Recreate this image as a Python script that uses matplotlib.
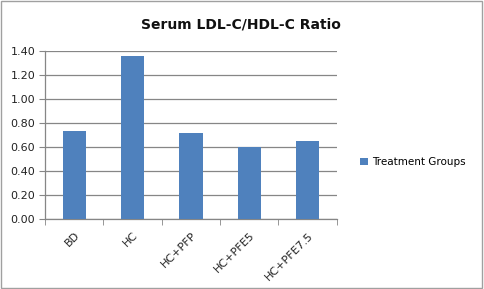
import matplotlib
matplotlib.use("Agg")
import matplotlib.pyplot as plt
from matplotlib.patches import Rectangle

# Data
groups = ["BD", "HC", "HC+PFP", "HC+PFE5", "HC+PFE7.5"]
ratios = [0.73, 1.36, 0.72, 0.60, 0.65]
yticks = [0.00, 0.20, 0.40, 0.60, 0.80, 1.00, 1.20, 1.40]
series_name = "Treatment Groups"

bar_color = "#4F81BD"
grid_color = "#868686"

fig = plt.figure(figsize=(4.84, 2.89), dpi=100)
fig.patch.set_facecolor("white")
ax = fig.add_axes([0.093, 0.242, 0.603, 0.5815])

x = list(range(len(groups)))
ax.bar(x, ratios, width=0.4, color=bar_color, zorder=3, label=series_name)

ax.set_xlim(-0.5, len(groups) - 0.5)
ax.set_ylim(0, 1.40)
ax.set_yticks(yticks)
ax.set_yticklabels([f"{v:.2f}" for v in yticks], fontsize=8, color="#222222")
ax.yaxis.grid(True, color=grid_color, linewidth=0.9, zorder=0)
ax.tick_params(axis="y", length=4, color=grid_color, direction="out", pad=3)

ax.set_xticks(x)
ax.set_xticklabels(groups, rotation=45, ha="right", rotation_mode="anchor",
                   fontsize=8, color="#222222")
ax.tick_params(axis="x", which="major", length=0, pad=8)
ax.set_xticks([i - 0.5 for i in range(len(groups) + 1)], minor=True)
ax.tick_params(axis="x", which="minor", length=4, color=grid_color, direction="out")

for side in ["top", "right"]:
    ax.spines[side].set_visible(False)
for side in ["left", "bottom"]:
    ax.spines[side].set_color(grid_color)
    ax.spines[side].set_linewidth(0.9)

fig.text(0.498, 0.915, "Serum LDL-C/HDL-C Ratio", ha="center", va="center",
         fontsize=10, fontweight="bold", color="#111111")

handles, labels = ax.get_legend_handles_labels()
fig.legend(handles, labels, loc="center left", bbox_to_anchor=(0.725, 0.44),
           frameon=False, fontsize=7.5, handlelength=0.7, handleheight=0.7,
           handletextpad=0.4)

# outer chart border
fig.patches.append(Rectangle((0.002, 0.003), 0.994, 0.994, transform=fig.transFigure,
                             fill=False, edgecolor="#a0a0a0", linewidth=1))

fig.savefig("out.png", dpi=100)
